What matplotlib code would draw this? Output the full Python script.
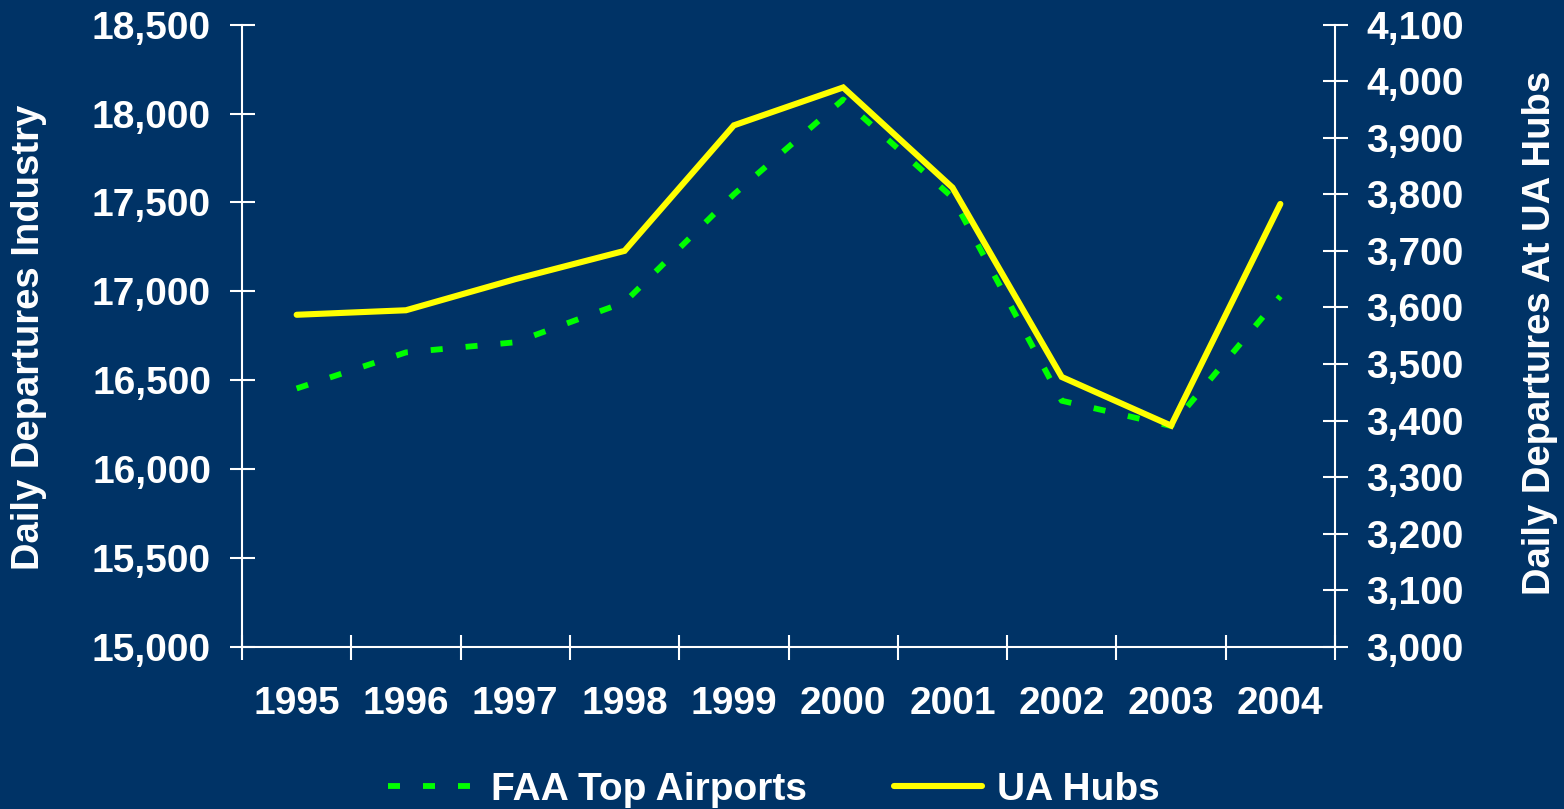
import matplotlib
matplotlib.use("Agg")
import matplotlib.pyplot as plt
from matplotlib.ticker import FuncFormatter, MultipleLocator, FixedLocator
from matplotlib.lines import Line2D

years = ["1995", "1996", "1997", "1998", "1999", "2000", "2001", "2002", "2003", "2004"]
faa_top_airports = [16453, 16656, 16713, 16938, 17545, 18079, 17528, 16384, 16242, 16972]
ua_hubs = [3587, 3595, 3650, 3700, 3922, 3989, 3812, 3477, 3391, 3783]

BG = "#003366"
GREEN = "#00FF00"
YELLOW = "#FFFF00"
FS = 28

plt.rcParams["font.family"] = ["Liberation Sans", "DejaVu Sans"]
plt.rcParams["font.weight"] = "bold"

W, H = 1564, 809
fig = plt.figure(figsize=(W / 100, H / 100), dpi=100, facecolor=BG)
l, r, t, b = 242, 1335, 24.7, 646.7
ax = fig.add_axes([l / W, 1 - b / H, (r - l) / W, (b - t) / H])
ax.set_facecolor(BG)
ax2 = ax.twinx()

GLW = 4.2
GDASH = (12 / (GLW * 1.389), 23 / (GLW * 1.389))
x = list(range(len(years)))
ax.plot(x, faa_top_airports, color=GREEN, lw=GLW, dashes=GDASH,
        dash_capstyle="butt", label="FAA Top Airports")
ax2.plot(x, ua_hubs, color=YELLOW, lw=4.4, solid_capstyle="round",
         solid_joinstyle="miter", label="UA Hubs")

ax.set_xlim(-0.5, len(years) - 0.5)
ax.set_ylim(15000, 18500)
ax2.set_ylim(3000, 4100)
ax.yaxis.set_major_locator(MultipleLocator(500))
ax2.yaxis.set_major_locator(MultipleLocator(100))
fmt = FuncFormatter(lambda v, p: f"{v:,.0f}")
ax.yaxis.set_major_formatter(fmt)
ax2.yaxis.set_major_formatter(fmt)

ax.set_xticks(x)
ax.set_xticklabels(years)
ax.xaxis.set_minor_locator(FixedLocator([i - 0.5 for i in range(len(years) + 1)]))

for a in (ax, ax2):
    for s in a.spines.values():
        s.set_color("white")
        s.set_linewidth(1.5)
    a.spines["top"].set_visible(False)
ax.spines["right"].set_visible(False)
ax2.spines["left"].set_visible(False)
ax2.spines["bottom"].set_visible(False)

ax.tick_params(axis="x", which="major", length=0, pad=28, labelsize=FS, labelcolor="white")
ax.tick_params(axis="x", which="minor", direction="inout", length=18, width=1.5, color="white")
ax.tick_params(axis="y", which="major", direction="inout", length=18, width=1.5,
               color="white", pad=13.3, labelsize=FS, labelcolor="white")
ax2.tick_params(axis="y", which="major", direction="inout", length=18, width=1.5,
                color="white", pad=13.3, labelsize=FS, labelcolor="white")

fig.text(29 / W, 1 - 337 / H, "Daily Departures Industry", rotation=90,
         ha="center", va="center", color="white", fontsize=27.5, fontweight="bold")
fig.text(1540 / W, 1 - 333 / H, "Daily Departures At UA Hubs", rotation=90,
         ha="center", va="center", color="white", fontsize=27.5, fontweight="bold")

handles = [Line2D([], [], color=GREEN, lw=GLW, dashes=GDASH, dash_capstyle="butt"),
           Line2D([], [], color=YELLOW, lw=4.4, solid_capstyle="round")]
fig.legend(handles, ["FAA Top Airports", "UA Hubs"], loc="center",
           bbox_to_anchor=(774 / W, 1 - 790 / H), ncol=2, frameon=False,
           fontsize=FS, labelcolor="white", handlelength=2.25,
           handletextpad=0.4, columnspacing=2.25)

fig.savefig("out.png", dpi=100, facecolor=BG)
